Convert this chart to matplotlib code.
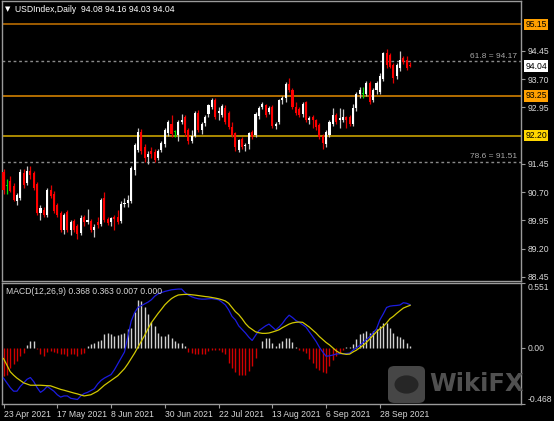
import matplotlib
matplotlib.use('Agg')
import matplotlib.pyplot as plt
import matplotlib.transforms as mtransforms
from matplotlib.patches import FancyBboxPatch, Circle

# ---------------- data ----------------
opens = [91.24, 90.85, 91.00, 90.85, 90.45, 90.55, 91.20, 90.95, 91.25, 91.20,
         90.92, 90.14, 90.22, 90.08, 90.76, 90.66, 90.35, 90.14, 89.70, 90.18,
         89.70, 89.92, 89.80, 89.62, 90.05, 89.90, 89.92, 89.70, 89.90, 89.85,
         90.55, 89.98, 89.90, 90.05, 90.05, 89.92, 90.38, 90.42, 90.45, 91.28,
         91.82, 92.30, 91.90, 91.62, 91.80, 91.75, 91.60, 91.82, 91.98, 92.28,
         92.50, 92.30, 92.22, 92.55, 92.70, 92.35, 92.05, 92.20, 92.80, 92.35,
         92.52, 92.78, 92.97, 93.14, 92.80, 92.75, 92.93, 92.80, 92.43, 92.27,
         91.82, 92.10, 91.92, 91.98, 92.30, 92.21, 92.72, 92.95, 93.00, 92.82,
         92.95, 92.45, 92.55, 93.14, 93.19, 93.57, 93.40, 92.97, 92.90, 92.78,
         93.10, 92.62, 92.70, 92.60, 92.48, 92.20, 91.98, 92.22, 92.50, 92.75,
         92.60, 92.62, 92.68, 92.70, 92.50, 92.93, 93.30, 93.30, 93.30, 93.60,
         93.15, 93.42, 93.35, 93.70, 94.38, 94.34, 94.07, 93.78, 93.98, 94.25,
         94.20, 94.08]
highs = [91.30, 91.05, 91.12, 90.95, 90.68, 91.30, 91.30, 91.38, 91.38, 91.25,
         90.98, 90.35, 90.30, 90.80, 90.90, 90.72, 90.42, 90.20, 90.15, 90.22,
         89.95, 89.98, 89.85, 90.08, 90.10, 90.25, 89.98, 89.85, 90.05, 90.55,
         90.70, 90.05, 90.05, 90.10, 90.22, 90.45, 90.55, 90.62, 91.38, 92.00,
         92.40, 92.38, 91.98, 91.78, 91.90, 91.85, 91.85, 92.05, 92.40, 92.62,
         92.74, 92.35, 92.62, 92.78, 92.75, 92.40, 92.35, 92.85, 92.88, 92.55,
         92.75, 93.05, 93.20, 93.20, 92.95, 93.05, 93.00, 92.85, 92.55, 92.30,
         92.12, 92.15, 92.00, 92.30, 92.35, 92.82, 92.98, 93.10, 93.05, 92.98,
         93.00, 92.55, 93.18, 93.25, 93.62, 93.73, 93.45, 93.10, 92.95, 93.08,
         93.12, 92.72, 92.75, 92.65, 92.52, 92.25, 92.35, 92.62, 92.92, 92.80,
         92.92, 92.90, 92.72, 92.75, 93.05, 93.35, 93.48, 93.50, 93.65, 93.65,
         93.45, 93.65, 93.85, 94.42, 94.49, 94.40, 94.12, 94.12, 94.43, 94.30,
         94.30, 94.16]
lows = [90.65, 90.65, 90.70, 90.45, 90.35, 90.50, 90.80, 90.90, 91.05, 90.75,
        90.10, 89.95, 90.05, 90.05, 90.55, 90.15, 90.05, 89.65, 89.60, 89.65,
        89.55, 89.65, 89.45, 89.55, 89.80, 89.85, 89.65, 89.50, 89.75, 89.80,
        89.90, 89.82, 89.80, 89.70, 89.85, 89.88, 90.30, 90.30, 90.40, 91.15,
        91.75, 91.70, 91.50, 91.45, 91.60, 91.50, 91.55, 91.75, 91.90, 92.20,
        92.15, 92.15, 92.05, 92.50, 92.20, 91.98, 92.00, 92.15, 92.30, 92.25,
        92.45, 92.70, 92.90, 92.65, 92.60, 92.70, 92.50, 92.38, 92.15, 91.80,
        91.75, 91.85, 91.80, 91.85, 92.10, 92.15, 92.65, 92.90, 92.70, 92.78,
        92.40, 92.38, 92.50, 93.05, 93.10, 93.35, 92.90, 92.75, 92.70, 92.70,
        92.55, 92.50, 92.40, 92.35, 92.10, 91.85, 91.90, 92.15, 92.45, 92.50,
        92.40, 92.55, 92.40, 92.45, 92.45, 92.85, 93.20, 93.20, 93.25, 93.05,
        93.10, 93.30, 93.30, 93.65, 94.00, 93.98, 93.60, 93.70, 93.90, 94.10,
        93.95, 94.03]
closes = [90.75, 90.88, 90.72, 90.50, 90.62, 91.24, 90.88, 91.25, 91.15, 90.80,
          90.14, 90.28, 90.10, 90.75, 90.60, 90.20, 90.09, 89.70, 90.10, 89.70,
          89.90, 89.70, 89.60, 90.02, 89.90, 89.95, 89.70, 89.78, 89.82, 90.49,
          89.96, 89.88, 90.00, 89.98, 89.90, 90.38, 90.42, 90.50, 91.33, 91.95,
          92.30, 91.80, 91.60, 91.72, 91.70, 91.55, 91.80, 92.00, 92.35, 92.55,
          92.25, 92.30, 92.55, 92.62, 92.26, 92.05, 92.20, 92.80, 92.35, 92.50,
          92.70, 93.00, 93.14, 92.70, 92.85, 92.98, 92.57, 92.43, 92.21, 91.90,
          92.08, 91.90, 91.96, 92.27, 92.15, 92.78, 92.93, 93.03, 92.75, 92.92,
          92.45, 92.50, 93.14, 93.20, 93.57, 93.40, 92.97, 92.80, 92.75, 93.03,
          92.60, 92.66, 92.60, 92.43, 92.17, 92.00, 92.30, 92.57, 92.75, 92.55,
          92.66, 92.68, 92.62, 92.50, 92.93, 93.30, 93.40, 93.30, 93.60, 93.10,
          93.40, 93.60, 93.78, 94.39, 94.07, 94.03, 93.72, 94.07, 94.20, 94.15,
          94.00, 94.04]
green_bars = [1, 51, 107]

macd_main = [-0.25, -0.29, -0.33, -0.36, -0.36, -0.32, -0.29, -0.26, -0.245, -0.28,
             -0.33, -0.37, -0.35, -0.32, -0.34, -0.36, -0.39, -0.41, -0.40, -0.40,
             -0.42, -0.425, -0.43, -0.40, -0.38, -0.37, -0.355, -0.34, -0.30, -0.27,
             -0.25, -0.235, -0.22, -0.18, -0.13, -0.08, -0.03, 0.10, 0.23, 0.30,
             0.345, 0.36, 0.375, 0.39, 0.41, 0.44, 0.46, 0.47, 0.48, 0.487,
             0.494, 0.497, 0.50, 0.50, 0.47, 0.45, 0.435, 0.425, 0.418, 0.415,
             0.415, 0.418, 0.42, 0.415, 0.41, 0.39, 0.367, 0.325, 0.27, 0.24,
             0.19, 0.16, 0.13, 0.095, 0.067, 0.11, 0.15, 0.17, 0.19, 0.205,
             0.18, 0.155, 0.18, 0.21, 0.25, 0.28, 0.26, 0.235, 0.22, 0.20,
             0.18, 0.14, 0.10, 0.06, 0.01, -0.03, -0.066, -0.062, -0.056, -0.047,
             -0.045, -0.045, -0.043, -0.04, -0.015, 0.005, 0.025, 0.05, 0.075, 0.10,
             0.13, 0.165, 0.24, 0.29, 0.345, 0.356, 0.36, 0.362, 0.366, 0.385,
             0.38, 0.368]
macd_signal = [-0.085, -0.14, -0.196, -0.225, -0.25, -0.27, -0.29, -0.30, -0.31, -0.31,
               -0.31, -0.31, -0.312, -0.314, -0.315, -0.325, -0.335, -0.345, -0.352, -0.36,
               -0.368, -0.376, -0.383, -0.392, -0.40, -0.395, -0.39, -0.375, -0.36, -0.335,
               -0.31, -0.29, -0.27, -0.25, -0.23, -0.20, -0.17, -0.13, -0.085, -0.04,
               0.01, 0.06, 0.11, 0.165, 0.217, 0.256, 0.295, 0.33, 0.367, 0.395,
               0.42, 0.437, 0.45, 0.453, 0.455, 0.455, 0.452, 0.449, 0.445, 0.441,
               0.437, 0.434, 0.429, 0.424, 0.418, 0.41, 0.40, 0.38, 0.345, 0.31,
               0.285, 0.25, 0.21, 0.18, 0.16, 0.14, 0.132, 0.127, 0.127, 0.13,
               0.138, 0.147, 0.157, 0.175, 0.19, 0.205, 0.215, 0.22, 0.222, 0.22,
               0.20, 0.18, 0.155, 0.13, 0.10, 0.075, 0.05, 0.03, 0.005, -0.02,
               -0.038, -0.045, -0.05, -0.048, -0.03, -0.015, 0.005, 0.025, 0.05, 0.08,
               0.11, 0.14, 0.165, 0.185, 0.215, 0.25, 0.27, 0.295, 0.318, 0.34,
               0.352, 0.363]
macd_hist = [-0.235, -0.22, -0.165, -0.135, -0.11, -0.065, -0.037, 0.025, 0.062, 0.062,
             -0.005, -0.05, -0.06, -0.03, -0.02, -0.03, -0.035, -0.05, -0.05, -0.06,
             -0.05, -0.045, -0.06, -0.05, -0.04, 0.02, 0.04, 0.045, 0.06, 0.075,
             0.12, 0.13, 0.12, 0.105, 0.11, 0.12, 0.13, 0.16, 0.175, 0.31,
             0.41, 0.40, 0.35, 0.29, 0.22, 0.19, 0.13, 0.105, 0.105, 0.12,
             0.09, 0.062, 0.048, 0.048, 0.02, -0.03, -0.04, -0.045, -0.05, -0.05,
             -0.045, -0.025, -0.01, -0.01, -0.017, -0.03, -0.05, -0.12, -0.165, -0.2,
             -0.22, -0.22, -0.22, -0.19, -0.15, -0.08, 0.0, 0.06, 0.09, 0.09,
             0.048, 0.02, 0.048, 0.062, 0.09, 0.09, 0.054, 0.01, -0.01, -0.023,
             -0.037, -0.088, -0.12, -0.165, -0.185, -0.2, -0.206, -0.15, -0.1, -0.065,
             -0.037, -0.017, 0.01, 0.01, 0.034, 0.076, 0.12, 0.133, 0.147, 0.133,
             0.147, 0.16, 0.19, 0.21, 0.21, 0.175, 0.133, 0.105, 0.1, 0.076,
             0.048, 0.02]

date_labels = ['23 Apr 2021', '17 May 2021', '8 Jun 2021', '30 Jun 2021',
               '22 Jul 2021', '13 Aug 2021', '6 Sep 2021', '28 Sep 2021']
date_label_bars = [0, 16, 32, 48, 64, 80, 96, 112]
price_ticks = [94.45, 93.70, 92.95, 91.45, 90.70, 89.95, 89.20, 88.45]
level_values = [95.15, 93.25, 92.20]
fib_values = [94.17, 91.51]
fib_labels = ['61.8 = 94.17', '78.6 = 91.51']
last_price = 94.04
title_text = 'USDIndex,Daily  94.08 94.16 94.03 94.04'
macd_text = 'MACD(12,26,9) 0.368 0.363 0.007 0.000'
macd_ticks = [0.551, 0.00, -0.468]

# ---------------- style ----------------
W, H = 554, 421
FONT = ['Liberation Sans', 'DejaVu Sans']
plt.rcParams['font.family'] = FONT
FG = '#d8d8d8'
FRAME = '#9a9a9a'
level_line_colors = ['#b86c00', '#d08000', '#c8a000']
level_box_colors = ['#ffa000', '#ffa000', '#ffd700']

fig = plt.figure(figsize=(W / 100, H / 100), dpi=100, facecolor='black')

def rect(x0, y0, x1, y1):
    return [x0 / W, 1 - y1 / H, (x1 - x0) / W, (y1 - y0) / H]

ax1 = fig.add_axes(rect(2, 1, 521, 281), facecolor='black')
ax2 = fig.add_axes(rect(2, 283, 521, 404), facecolor='black')

n = len(closes)
xs = list(range(n))
xlim = (-0.45, 154.0)

for ax in (ax1, ax2):
    ax.set_xlim(*xlim)
    for s in ax.spines.values():
        s.set_color(FRAME)
        s.set_linewidth(1.0)
    ax.yaxis.tick_right()
    ax.tick_params(axis='y', colors=FRAME, labelcolor=FG, length=3, width=0.8,
                   labelsize=6.2, pad=2)

# ---- price panel ----
ax1.set_ylim(88.34, 95.77)
ax1.set_yticks(price_ticks)
ax1.set_yticklabels(['%.2f' % t for t in price_ticks])
ax1.set_xticks([])

for lv, lc in zip(level_values, level_line_colors):
    ax1.axhline(lv, color=lc, lw=1.2, zorder=1)
for fv, ft in zip(fib_values, fib_labels):
    ax1.axhline(fv, color='#8a8a8a', lw=1.0, ls=(0, (2, 2)), zorder=1)
    ax1.text(0.992, fv + 0.03, ft, transform=mtransforms.blended_transform_factory(ax1.transAxes, ax1.transData),
             ha='right', va='bottom', color='#a8a8a8', fontsize=6.0)

for i in xs:
    o, h, l, c = opens[i], highs[i], lows[i], closes[i]
    if i in green_bars:
        col = '#00e000'
        wcol = '#00e000'
    elif c >= o:
        col = '#ffffff'
        wcol = '#c8c8c8'
    else:
        col = '#ff0000'
        wcol = '#e00000'
    ax1.vlines(i, l, h, color=wcol, lw=0.9, zorder=2)
    body = max(abs(c - o), 0.02)
    ax1.bar(i, body, bottom=min(o, c), width=0.62, color=col, linewidth=0, zorder=3)

trans1 = mtransforms.blended_transform_factory(ax1.transAxes, ax1.transData)
for lv, bc in zip(level_values, level_box_colors):
    ax1.text(1.008, lv, '%.2f' % lv, transform=trans1, ha='left', va='center',
             fontsize=6.2, color='black', clip_on=False,
             bbox=dict(boxstyle='square,pad=0.15', facecolor=bc, edgecolor='none'))
ax1.text(1.008, last_price, '%.2f' % last_price, transform=trans1, ha='left', va='center',
         fontsize=6.2, color='black', clip_on=False,
         bbox=dict(boxstyle='square,pad=0.15', facecolor='white', edgecolor='none'))

fig.text(5 / W, 1 - 9 / H, '\u25BC', color='white', fontsize=5, va='center', ha='left',
         family=['DejaVu Sans'])
fig.text(15 / W, 1 - 9 / H, title_text, color='white', fontsize=6.2, va='center', ha='left')

# ---- MACD panel ----
ax2.set_ylim(-0.468, 0.551)
ax2.set_yticks(macd_ticks)
ax2.set_yticklabels(['0.551', '0.00', '-0.468'])
for lbl, va in zip(ax2.get_yticklabels(), ['top', 'center', 'bottom']):
    lbl.set_va(va)

hist_cols = ['#d0d0d0' if v > 0 else '#d00000' for v in macd_hist]
ax2.vlines(xs, [0] * n, macd_hist, colors=hist_cols, lw=1.0, zorder=2)
ax2.plot(xs, macd_main, color='#1c1ce0', lw=0.9, zorder=3)
ax2.plot(xs, macd_signal, color='#d2c800', lw=0.9, zorder=4)

ax2.set_xticks(date_label_bars)
ax2.set_xticklabels(date_labels)
ax2.tick_params(axis='x', colors=FRAME, labelcolor=FG, length=3, width=0.8,
                labelsize=6.2, pad=1.0, direction='out')
for lbl in ax2.get_xticklabels():
    lbl.set_ha('left')

ax2.text(0.008, 0.97, macd_text, transform=ax2.transAxes, color=FG, fontsize=6.2,
         ha='left', va='top')

# ---- watermark ----
logo = FancyBboxPatch((388 / W, 1 - 403 / H), 37 / W, 37 / H,
                      boxstyle='round,pad=0,rounding_size=0.012',
                      transform=fig.transFigure, facecolor='#4e4e4e', edgecolor='none',
                      alpha=0.9, zorder=10)
fig.patches.append(logo)
fig.patches.append(Circle((406.5 / W, 1 - 384.5 / H), 12 / W, transform=fig.transFigure,
                          facecolor='#262626', edgecolor='none', zorder=11))
fig.text(429 / W, 1 - 384 / H, 'WikiFX', color='#555555', fontsize=17.5, fontweight='bold',
         ha='left', va='center', family=['DejaVu Sans'], alpha=0.95, zorder=10)

fig.savefig('out.png', dpi=100, facecolor='black')
